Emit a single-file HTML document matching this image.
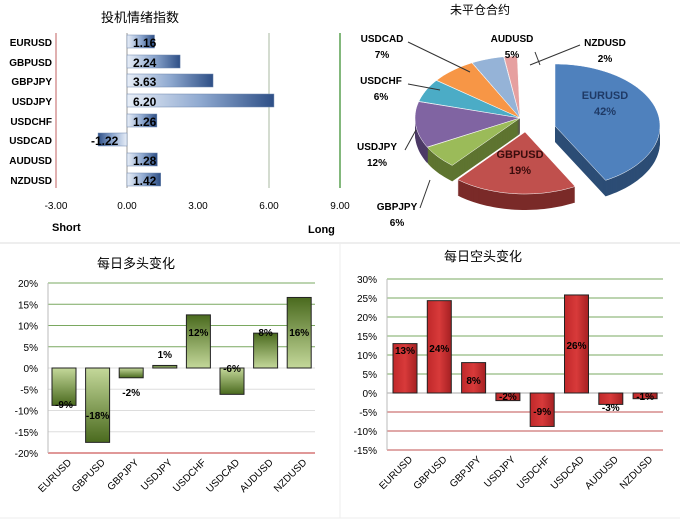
<!DOCTYPE html>
<html><head><meta charset="utf-8">
<style>
html,body{margin:0;padding:0;background:#fff;}
svg{display:block;font-family:"Liberation Sans","Noto Sans CJK SC",sans-serif;}
</style></head>
<body>
<svg id="s" width="680" height="531" viewBox="0 0 680 531" xmlns="http://www.w3.org/2000/svg">
<defs>
<linearGradient id="hb" x1="0" y1="0" x2="1" y2="0">
<stop offset="0" stop-color="#e8eef7"/><stop offset="0.5" stop-color="#8fa9d0"/><stop offset="1" stop-color="#2e4f86"/></linearGradient>
<linearGradient id="hbn" x1="1" y1="0" x2="0" y2="0">
<stop offset="0" stop-color="#e8eef7"/><stop offset="0.5" stop-color="#8fa9d0"/><stop offset="1" stop-color="#2e4f86"/></linearGradient>
<linearGradient id="gp" x1="0" y1="1" x2="0" y2="0">
<stop offset="0" stop-color="#c4d89a"/><stop offset="1" stop-color="#4a6a1e"/></linearGradient>
<linearGradient id="gn" x1="0" y1="0" x2="0" y2="1">
<stop offset="0" stop-color="#c4d89a"/><stop offset="1" stop-color="#4a6a1e"/></linearGradient>
<linearGradient id="rd" x1="0" y1="0" x2="1" y2="0">
<stop offset="0" stop-color="#c0282a"/><stop offset="0.5" stop-color="#d83a3a"/><stop offset="1" stop-color="#a52022"/></linearGradient>
</defs>
<g id="tl">
<text x="140" y="22" font-size="13" text-anchor="middle">投机情绪指数</text>
<line x1="56" y1="33" x2="56" y2="188" stroke="#c06060" stroke-width="1"/>
<line x1="269" y1="33" x2="269" y2="188" stroke="#aab8a0" stroke-width="1"/>
<line x1="340" y1="33" x2="340" y2="188" stroke="#5aa050" stroke-width="1.5"/>
<line x1="127" y1="33" x2="127" y2="188" stroke="#999" stroke-width="1"/>
</g>
<g id="pie"></g>
<text x="480" y="14" font-size="12" text-anchor="middle">未平仓合约</text>
<line x1="0" y1="243" x2="680" y2="243" stroke="#ddd"/>
<line x1="0" y1="518" x2="680" y2="518" stroke="#eee"/>
<line x1="340" y1="243" x2="340" y2="518" stroke="#eee"/>
<text x="136" y="268" font-size="13" text-anchor="middle">每日多头变化</text>
<text x="483" y="261" font-size="13" text-anchor="middle">每日空头变化</text>
<g id="bl"></g><g id="br"></g>
</svg>
<script>
var NS="http://www.w3.org/2000/svg";
function el(p,t,a,txt){var e=document.createElementNS(NS,t);for(var k in a)e.setAttribute(k,a[k]);if(txt!==undefined)e.textContent=txt;p.appendChild(e);return e;}
var names=["EURUSD","GBPUSD","GBPJPY","USDJPY","USDCHF","USDCAD","AUDUSD","NZDUSD"];
var tl=document.getElementById("tl");
var v1=[1.16,2.24,3.63,6.20,1.26,-1.22,1.28,1.42];
var ys=[42,62,81,101,121,140,160,180];
for(var i=0;i<8;i++){
 var x0=127,w=v1[i]*23.7;
 el(tl,"rect",{x:w>=0?x0:x0+w,y:ys[i]-7,width:Math.abs(w),height:13,fill:w>=0?"url(#hb)":"url(#hbn)",stroke:"#6d86ad","stroke-width":0.5});
 el(tl,"text",{x:52,y:ys[i]+4,"font-size":10,"font-weight":"bold","text-anchor":"end"},names[i]);
 el(tl,"text",{x:w>=0?133:91,y:ys[i]+5,"font-size":12,"font-weight":"bold"},v1[i].toFixed(2));
}
var tk=["-3.00","0.00","3.00","6.00","9.00"];
for(var j=0;j<5;j++)el(tl,"text",{x:56+j*71,y:209,"font-size":10,"text-anchor":"middle"},tk[j]);
el(tl,"text",{x:52,y:231,"font-size":11,"font-weight":"bold"},"Short");
el(tl,"text",{x:308,y:233,"font-size":11,"font-weight":"bold"},"Long");
var pg=document.getElementById("pie");
var pct=[42,19,6,12,6,7,5,2];
var topc=["#4f81bd","#c0504d","#9bbb59","#8064a2","#4bacc6","#f79646","#95b3d7","#e6a0a0"];
var sidec=["#2c4d75","#7a2a28","#5e7430","#4c3a66","#276a7c","#a85c1a","#5f7ea8","#a86060"];
var cx=520,cy=118,rx=105,ry=62,d=16;
var a=-90,sl=[];
for(i=0;i<8;i++){var s=a,e=a+pct[i]*3.6;a=e+0.3;sl.push([s,e]);}
var off={0:[35,8],1:[5,14]};
function pt(ox,oy,t,dy){var r=t*Math.PI/180;return [ox+rx*Math.cos(r),oy+ry*Math.sin(r)+(dy||0)];}
function path(i,dy){var o=off[i]||[0,0],ox=cx+o[0],oy=cy+o[1];var s=sl[i][0],e=sl[i][1];
 var p="M"+ox+","+(oy+dy);for(var t=s;t<=e;t+=2){var q=pt(ox,oy,t,dy);p+="L"+q[0].toFixed(1)+","+q[1].toFixed(1);}
 var q=pt(ox,oy,e,dy);p+="L"+q[0]+","+q[1]+"Z";return p;}
var order=[7,6,5,4,3,2,0,1];
order.forEach(function(i){for(var k=d;k>0;k-=1)el(pg,"path",{d:path(i,k),fill:sidec[i]});});
order.forEach(function(i){el(pg,"path",{d:path(i,0),fill:topc[i],stroke:"#fff","stroke-width":0.5});});
var lb=[["USDCAD","7%",382,38],["AUDUSD","5%",512,38],["NZDUSD","2%",605,42],["USDCHF","6%",381,80],["USDJPY","12%",377,146],["GBPJPY","6%",397,206]];
lb.forEach(function(l){el(pg,"text",{x:l[2],y:l[3]+4,"font-size":10,"font-weight":"bold","text-anchor":"middle"},l[0]);el(pg,"text",{x:l[2],y:l[3]+20,"font-size":10,"font-weight":"bold","text-anchor":"middle"},l[1]);});
el(pg,"text",{x:605,y:99,"font-size":11,"font-weight":"bold","text-anchor":"middle","fill":"#1f3a66"},"EURUSD");
el(pg,"text",{x:605,y:115,"font-size":11,"font-weight":"bold","text-anchor":"middle","fill":"#1f3a66"},"42%");
el(pg,"text",{x:520,y:158,"font-size":11,"font-weight":"bold","text-anchor":"middle","fill":"#3a0c0c"},"GBPUSD");
el(pg,"text",{x:520,y:174,"font-size":11,"font-weight":"bold","text-anchor":"middle","fill":"#3a0c0c"},"19%");
var lines=[[408,42,470,72],[535,52,540,65],[580,45,530,65],[408,84,440,90],[405,150,416,130],[420,208,430,180]];
lines.forEach(function(l){el(pg,"polyline",{points:l[0]+","+l[1]+" "+l[2]+","+l[3],stroke:"#333",fill:"none","stroke-width":1});});
function bars(g,vals,x0,x1,ytop,zero,pxp,ticks,grid,fill,cx0,dx,lbl){
 ticks.forEach(function(t){var y=zero-t*pxp;el(g,"line",{x1:x0,x2:x1,y1:y,y2:y,stroke:grid(t),"stroke-width":1});
  el(g,"text",{x:x0-10,y:y+4,"font-size":10,"text-anchor":"end"},t+"%");});
 el(g,"line",{x1:x0,x2:x0,y1:ytop,y2:zero-ticks[ticks.length-1]*pxp,stroke:"#bbb"});
 for(var i=0;i<8;i++){var c=cx0+i*dx,v=vals[i],h=v*pxp;
  el(g,"rect",{x:c-12,y:v>=0?zero-h:zero,width:24,height:Math.abs(h),fill:fill(v),stroke:"#222","stroke-width":1});
  el(g,"text",{x:c,y:lbl[i][1],"font-size":10,"font-weight":"bold","text-anchor":"middle"},lbl[i][0]);
  var ly=zero-ticks[ticks.length-1]*pxp+10;
  el(g,"text",{x:c+8,y:ly,"font-size":10,"text-anchor":"end",transform:"rotate(-45 "+(c+8)+" "+ly+")"},names[i]);
 }}
bars(document.getElementById("bl"),[-8.8,-17.5,-2.3,0.6,12.5,-6.2,8.2,16.6],48,315,283,368,4.25,[20,15,10,5,0,-5,-10,-15,-20],
 function(t){return t>0?"#7aa860":(t==-20?"#c03030":"#ddd");},function(v){return v>=0?"url(#gp)":"url(#gn)";},
 64,33.6,[["-9%",408],["-18%",419],["-2%",396],["1%",358],["12%",336],["-6%",372],["8%",336],["16%",336]]);
bars(document.getElementById("br"),[13,24.3,8,-2,-8.8,25.8,-3,-1.5],387,663,279,393,3.8,[30,25,20,15,10,5,0,-5,-10,-15],
 function(t){return t>0?"#7aa860":(t==0?"#aaa":"#c05050");},function(v){return "url(#rd)";},
 405,34.3,[["13%",354],["24%",352],["8%",384],["-2%",400],["-9%",415],["26%",349],["-3%",411],["-1%",400]]);
</script>
</body></html>
